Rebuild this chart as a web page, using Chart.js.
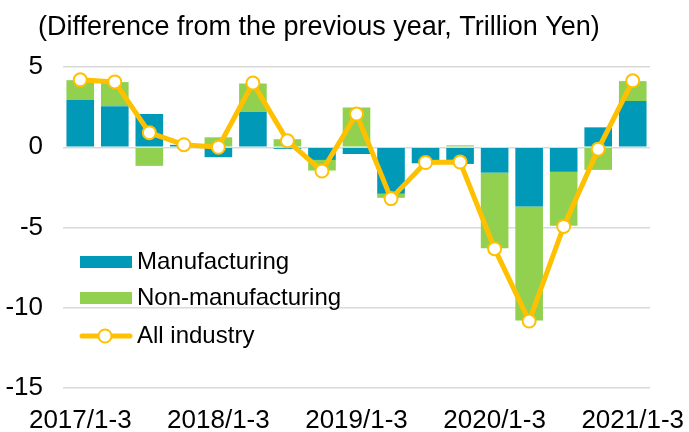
<!DOCTYPE html>
<html>
<head>
<meta charset="utf-8">
<script src="https://cdn.jsdelivr.net/npm/chart.js@4.4.1/dist/chart.umd.min.js"></script>
<style>
  html, body { margin: 0; padding: 0; background: #fff; }
  #wrap { width: 689px; height: 432px; position: relative; }
</style>
</head>
<body>
<div id="wrap"><canvas id="chart"></canvas></div>
<script>
// quarters (only every 4th gets a tick label)
const quarters = [
  '2017/1-3', '2017/4-6', '2017/7-9', '2017/10-12',
  '2018/1-3', '2018/4-6', '2018/7-9', '2018/10-12',
  '2019/1-3', '2019/4-6', '2019/7-9', '2019/10-12',
  '2020/1-3', '2020/4-6', '2020/7-9', '2020/10-12',
  '2021/1-3'
];
const manufacturing    = [2.94, 2.56, 2.07, 0.15, -0.62, 2.21, -0.10, -0.79, -0.42, -2.90, -1.00, -1.04, -1.58, -3.69, -1.53, 1.24, 2.88];
const nonManufacturing = [1.24, 1.50, -1.16, 0.00, 0.62, 1.76, 0.50, -0.66, 2.48, -0.25, 0.05, 0.12, -4.72, -7.10, -3.36, -1.41, 1.24];
const allIndustry      = [4.20, 4.07, 0.91, 0.16, 0.00, 4.00, 0.40, -1.48, 2.07, -3.20, -0.95, -0.92, -6.32, -10.83, -4.93, -0.12, 4.14];
const yTicks = [5, 0, -5, -10, -15];

const TEAL = '#009ab8';
const GREEN = '#92d050';
const GOLD = '#ffc000';
const FONT = 'Liberation Sans, Arial, sans-serif';

const overlay = {
    id: 'overlay',
    afterDraw(chart) {
        const ctx = chart.ctx;
        ctx.save();
        ctx.fillStyle = '#000';
        ctx.font = '27px ' + FONT;
        ctx.textBaseline = 'alphabetic';
        ctx.textAlign = 'left';
        ctx.fillText('(Difference from the previous year, Trillion Yen)', 38, 35);

        // legend inside the plot
        ctx.font = '24px ' + FONT;
        ctx.textBaseline = 'middle';
        const ds = chart.data.datasets;
        const rows = [262, 298, 336];
        ds.forEach((d, i) => {
            const y = rows[i];
            if (d.type === 'line') {
                ctx.strokeStyle = GOLD;
                ctx.lineWidth = 5;
                ctx.lineCap = 'round';
                ctx.beginPath();
                ctx.moveTo(82, y);
                ctx.lineTo(130, y);
                ctx.stroke();
                ctx.beginPath();
                ctx.arc(105, y, 6.5, 0, Math.PI * 2);
                ctx.fillStyle = '#fff';
                ctx.fill();
                ctx.lineWidth = 2;
                ctx.stroke();
            } else {
                ctx.fillStyle = d.backgroundColor;
                ctx.fillRect(80, y - 6, 52, 12);
            }
            ctx.fillStyle = '#000';
            ctx.fillText(d.label, 137, y);
        });
        ctx.restore();
    }
};

new Chart(document.getElementById('chart'), {
    data: {
        labels: quarters,
        datasets: [
            {
                type: 'bar',
                label: 'Manufacturing',
                data: manufacturing,
                backgroundColor: TEAL,
                stack: 'bars',
                order: 1,
                categoryPercentage: 0.8,
                barPercentage: 1.0
            },
            {
                type: 'bar',
                label: 'Non-manufacturing',
                data: nonManufacturing,
                backgroundColor: GREEN,
                stack: 'bars',
                order: 1,
                categoryPercentage: 0.8,
                barPercentage: 1.0
            },
            {
                type: 'line',
                label: 'All industry',
                data: allIndustry,
                borderColor: GOLD,
                borderWidth: 5,
                pointRadius: 6.5,
                pointBorderWidth: 2,
                pointBackgroundColor: '#fff',
                pointBorderColor: GOLD,
                stack: 'line',
                order: 0,
                tension: 0
            }
        ]
    },
    options: {
        responsive: true,
        maintainAspectRatio: false,
        animation: false,
        layout: { padding: { top: 67, right: 39, left: 0, bottom: 0 } },
        plugins: {
            legend: { display: false },
            title: { display: false },
            tooltip: { enabled: false }
        },
        scales: {
            x: {
                stacked: true,
                grid: { display: false },
                border: { display: false },
                ticks: {
                    autoSkip: false,
                    maxRotation: 0,
                    padding: 9,
                    color: '#000',
                    font: { family: FONT, size: 26 },
                    callback: (v, i) => (i % 4 === 0 ? quarters[i] : '')
                },
                afterFit(scale) {
                    scale.height = 44;
                    scale.paddingLeft = 0;
                    scale.paddingRight = 0;
                }
            },
            y: {
                stacked: true,
                min: -15,
                max: 5,
                afterBuildTicks(scale) {
                    scale.ticks = yTicks.map(v => ({ value: v }));
                },
                grid: { color: '#d9d9d9', lineWidth: 1.5, drawTicks: false },
                border: { display: false },
                ticks: {
                    padding: 20,
                    color: '#000',
                    font: { family: FONT, size: 26 }
                },
                afterFit(scale) {
                    scale.width = 63;
                }
            }
        }
    },
    plugins: [overlay]
});
</script>
</body>
</html>
